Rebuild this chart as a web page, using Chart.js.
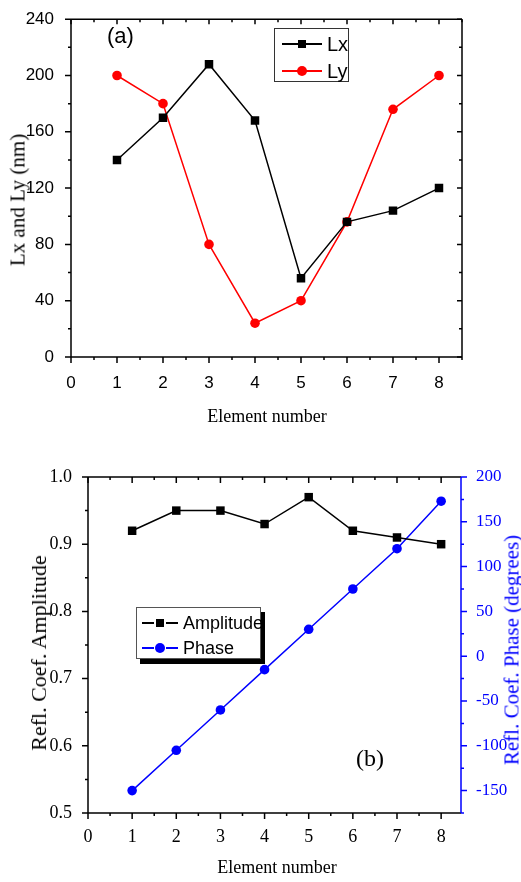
<!DOCTYPE html>
<html>
<head>
<meta charset="UTF-8">
<title>Lx/Ly and reflection coefficient</title>
<script src="https://cdn.jsdelivr.net/npm/chart.js"></script>
<style>
  body { margin: 0; background: #fff; width: 521px; height: 882px; position: relative; overflow: hidden; }
  .panel { position: absolute; left: 0; width: 521px; }
  .lbl { position: absolute; white-space: nowrap; line-height: 1; }
  .serif { font-family: "Liberation Serif", "Times New Roman", serif; }
  .sans { font-family: "Liberation Sans", Arial, sans-serif; }
  .vert { transform: translate(-50%, -50%) rotate(-90deg); }
  .hcen { transform: translate(-50%, -50%); }
  .legend { position: absolute; background: #fff; }
  .seg { position: absolute; height: 2px; }
  .mk { position: absolute; }
</style>
</head>
<body>
<div class="panel" style="top:0;height:440px"><canvas id="chartA" width="521" height="440"></canvas></div>
<div class="panel" style="top:440px;height:442px"><canvas id="chartB" width="521" height="442"></canvas></div>

<!-- panel (a) texts -->
<div class="lbl sans" style="left:107px;top:25px;font-size:22px">(a)</div>
<div class="lbl serif vert" style="left:18px;top:200px;font-size:21px">Lx and Ly (nm)</div>
<div class="lbl serif hcen" style="left:267px;top:416px;font-size:18px">Element number</div>
<div class="legend" style="left:274px;top:28px;width:73px;height:52px;border:1px solid #333">
  <div class="seg" style="left:7px;top:14px;width:40px;background:#000"></div>
  <div class="mk" style="left:23px;top:11px;width:8px;height:8px;background:#000"></div>
  <div class="lbl sans" style="left:52px;top:5px;font-size:20px">Lx</div>
  <div class="seg" style="left:7px;top:41px;width:40px;background:#f00"></div>
  <div class="mk" style="left:22px;top:37px;width:10px;height:10px;border-radius:50%;background:#f00"></div>
  <div class="lbl sans" style="left:52px;top:32px;font-size:20px">Ly</div>
</div>

<!-- panel (b) texts -->
<div class="lbl serif" style="left:356px;top:746px;font-size:24px">(b)</div>
<div class="lbl serif vert" style="left:39px;top:653px;font-size:22px">Refl. Coef. Amplitude</div>
<div class="lbl serif vert" style="left:512px;top:650px;font-size:21px;color:#00f">Refl. Coef. Phase (degrees)</div>
<div class="lbl serif hcen" style="left:277px;top:867px;font-size:18px">Element number</div>
<div class="legend" style="left:136px;top:607px;width:123px;height:50px;border:1px solid #555;box-shadow:4px 5px 0 #000">
  <div class="seg" style="left:5px;top:14px;width:12px;background:#000"></div>
  <div class="mk" style="left:19px;top:11px;width:8px;height:8px;background:#000"></div>
  <div class="seg" style="left:29px;top:14px;width:12px;background:#000"></div>
  <div class="lbl sans" style="left:46px;top:6px;font-size:18px">Amplitude</div>
  <div class="seg" style="left:5px;top:39px;width:12px;background:#00f"></div>
  <div class="mk" style="left:18px;top:35px;width:10px;height:10px;border-radius:50%;background:#00f"></div>
  <div class="seg" style="left:29px;top:39px;width:12px;background:#00f"></div>
  <div class="lbl sans" style="left:46px;top:31px;font-size:18px">Phase</div>
</div>

<script>
// data
const elements = [1, 2, 3, 4, 5, 6, 7, 8];
const lx = [140, 170, 208, 168, 56, 96, 104, 120];
const ly = [200, 180, 80, 24, 40, 96, 176, 200];
const amplitude = [0.92, 0.95, 0.95, 0.93, 0.97, 0.92, 0.91, 0.90];
const phase = [-150, -105, -60, -15, 30, 75, 120, 173];

// tick labels
const xTicks = [0, 1, 2, 3, 4, 5, 6, 7, 8];
const lTicks = [0, 40, 80, 120, 160, 200, 240];
const ampTicks = [0.5, 0.6, 0.7, 0.8, 0.9, 1.0];
const phaseTicks = [-150, -100, -50, 0, 50, 100, 150, 200];

const pts = (ys) => elements.map((x, i) => ({ x: x, y: ys[i] }));
const fixTicks = (list) => (s) => { s.ticks = list.map(v => ({ value: v })); };

// draws the frame, major ticks and minor ticks (origin style)
const frameTicks = {
  id: 'frameTicks',
  afterDraw(chart, args, opts) {
    const { ctx, chartArea: a } = chart;
    ctx.save();
    ctx.lineWidth = 1.5;
    (opts.sides || []).forEach(sd => {
      const sc = chart.scales[sd.scale];
      const vals = sc.ticks.map(t => t.value);
      const step = vals[1] - vals[0];
      const minor = [];
      for (let v = vals[0] - step / 2; v <= sc.max + 1e-9; v += step) {
        if (v >= sc.min - 1e-9) minor.push(v);
      }
      ctx.strokeStyle = sd.color || '#000';
      ctx.beginPath();
      const horiz = sd.edge === 'top' || sd.edge === 'bottom';
      const base = { top: a.top, bottom: a.bottom, left: a.left, right: a.right }[sd.edge];
      if (horiz) { ctx.moveTo(a.left, base); ctx.lineTo(a.right, base); }
      else { ctx.moveTo(base, a.top); ctx.lineTo(base, a.bottom); }
      const mark = (v, len) => {
        const p = sc.getPixelForValue(v);
        if (horiz) { ctx.moveTo(p, base); ctx.lineTo(p, base + sd.dir * len); }
        else { ctx.moveTo(base, p); ctx.lineTo(base + sd.dir * len, p); }
      };
      vals.forEach(v => mark(v, sd.major));
      minor.forEach(v => mark(v, sd.minor));
      ctx.stroke();
    });
    ctx.restore();
  }
};

const sansTick = { family: '"Liberation Sans", Arial, sans-serif', size: 17 };
const serifTick = { family: '"Liberation Serif", "Times New Roman", serif', size: 18 };
const serifTickR = { family: '"Liberation Serif", "Times New Roman", serif', size: 17 };

// chart (a)
new Chart(document.getElementById('chartA'), {
  type: 'scatter',
  plugins: [frameTicks],
  data: {
    datasets: [
      { label: 'Lx', data: pts(lx), showLine: true, borderColor: '#000', backgroundColor: '#000',
        borderWidth: 1.5, pointStyle: 'rect', pointRadius: 6, pointBorderWidth: 0 },
      { label: 'Ly', data: pts(ly), showLine: true, borderColor: '#f00', backgroundColor: '#f00',
        borderWidth: 1.5, pointStyle: 'circle', pointRadius: 4.8, pointBorderWidth: 0 }
    ]
  },
  options: {
    responsive: false,
    animation: false,
    layout: { padding: { top: 13, right: 59, left: 0, bottom: 0 } },
    plugins: {
      legend: { display: false },
      tooltip: { enabled: false },
      frameTicks: { sides: [
        { scale: 'x', edge: 'bottom', dir: 1, major: 6, minor: 3 },
        { scale: 'x', edge: 'top', dir: 1, major: 5, minor: 3 },
        { scale: 'y', edge: 'left', dir: -1, major: 6, minor: 3 },
        { scale: 'y', edge: 'right', dir: -1, major: 5, minor: 3 }
      ] }
    },
    scales: {
      x: {
        type: 'linear', min: 0, max: 8.5,
        afterBuildTicks: fixTicks(xTicks),
        afterFit: s => { s.height = 83; },
        grid: { display: false }, border: { display: false },
        ticks: { color: '#000', font: sansTick, padding: 8, maxRotation: 0 }
      },
      y: {
        min: 0, max: 240,
        afterBuildTicks: fixTicks(lTicks),
        afterFit: s => { s.width = 71; },
        grid: { display: false }, border: { display: false },
        ticks: { color: '#000', font: sansTick, padding: 9 }
      }
    }
  }
});

// chart (b)
new Chart(document.getElementById('chartB'), {
  type: 'scatter',
  plugins: [frameTicks],
  data: {
    datasets: [
      { label: 'Amplitude', data: pts(amplitude), yAxisID: 'y', showLine: true, borderColor: '#000',
        backgroundColor: '#000', borderWidth: 1.5, pointStyle: 'rect', pointRadius: 6, pointBorderWidth: 0 },
      { label: 'Phase', data: pts(phase), yAxisID: 'y1', showLine: true, borderColor: '#00f',
        backgroundColor: '#00f', borderWidth: 1.5, pointStyle: 'circle', pointRadius: 4.8, pointBorderWidth: 0 }
    ]
  },
  options: {
    responsive: false,
    animation: false,
    layout: { padding: { top: 37, right: 0, left: 0, bottom: 0 } },
    plugins: {
      legend: { display: false },
      tooltip: { enabled: false },
      frameTicks: { sides: [
        { scale: 'x', edge: 'bottom', dir: 1, major: 6, minor: 3 },
        { scale: 'x', edge: 'top', dir: 1, major: 6, minor: 3 },
        { scale: 'y', edge: 'left', dir: -1, major: 6, minor: 3 },
        { scale: 'y1', edge: 'right', dir: 1, major: 6, minor: 3, color: '#00f' }
      ] }
    },
    scales: {
      x: {
        type: 'linear', min: 0, max: 8.45,
        afterBuildTicks: fixTicks(xTicks),
        afterFit: s => { s.height = 69; },
        grid: { display: false }, border: { display: false },
        ticks: { color: '#000', font: serifTick, padding: 5, maxRotation: 0 }
      },
      y: {
        position: 'left', min: 0.5, max: 1.0,
        afterBuildTicks: fixTicks(ampTicks),
        afterFit: s => { s.width = 88; },
        grid: { display: false }, border: { display: false },
        ticks: { color: '#000', font: serifTick, padding: 8, callback: v => v.toFixed(1) }
      },
      y1: {
        position: 'right', min: -175, max: 200,
        afterBuildTicks: fixTicks(phaseTicks),
        afterFit: s => { s.width = 60; },
        grid: { display: false }, border: { display: false },
        ticks: { color: '#00f', font: serifTickR, padding: 7 }
      }
    }
  }
});
</script>
</body>
</html>
